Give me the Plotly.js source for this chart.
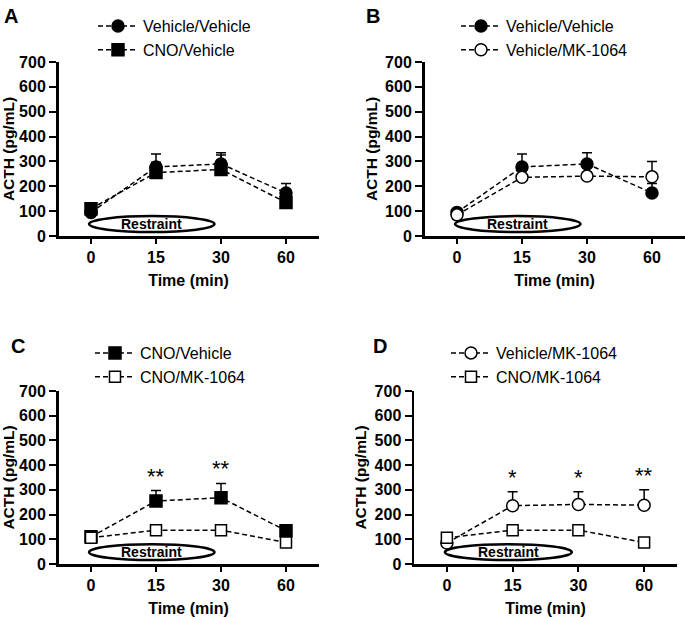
<!DOCTYPE html>
<html>
<head>
<meta charset="utf-8">
<script src="https://cdn.plot.ly/plotly-3.0.1.min.js"></script>
<style>
  html, body { margin: 0; padding: 0; background: #fff; }
  #chart { width: 685px; height: 617px; }
</style>
</head>
<body>
<div id="chart"></div>
<script>
// time points (min)
var times = ['0', '15', '30', '60'];

// ACTH means (pg/mL) and SEM (upper bar only)
var vehVeh = [95, 278, 290, 173];
var vehVehErr = [10, 52, 45, 38];
var cnoVeh = [110, 255, 268, 135];
var cnoVehErr = [8, 42, 58, 10];
var vehMK = [85, 236, 241, 238];
var vehMKErr = [8, 56, 51, 62];
var cnoMK = [106, 137, 137, 87];
var cnoMKErr = [6, 8, 8, 6];

// significance marks
var starsC = ['', '**', '**', ''];
var starsD = ['', '*', '*', '**'];

var bold = { family: 'Liberation Sans, Arial, sans-serif', weight: 'bold', color: '#000' };
var plain = { family: 'Liberation Sans, Arial, sans-serif', color: '#000' };

var styles = {
    vehVeh: { symbol: 'circle', fill: '#000', size: 12 },
    cnoVeh: { symbol: 'square', fill: '#000', size: 12 },
    vehMK: { symbol: 'circle', fill: '#fff', size: 12 },
    cnoMK: { symbol: 'square', fill: '#fff', size: 11 }
};

let makeTrace = (name, y, err, st, n) => {
    return {
        x: times,
        y: y,
        name: name,
        type: 'scatter',
        mode: 'lines+markers',
        xaxis: 'x' + (n === 1 ? '' : n),
        yaxis: 'y' + (n === 1 ? '' : n),
        legend: 'legend' + (n === 1 ? '' : n),
        line: { color: '#000', width: 1.5, dash: '5px,3px' },
        marker: { symbol: st.symbol, size: st.size, color: st.fill, line: { color: '#000', width: 1.5 } },
        error_y: {
            type: 'data', symmetric: false, array: err, arrayminus: err.map(() => 0),
            color: '#000', thickness: 1.5, width: 5
        },
        cliponaxis: false
    };
};

var data = [
    makeTrace('Vehicle/Vehicle', vehVeh, vehVehErr, styles.vehVeh, 1),
    makeTrace('CNO/Vehicle', cnoVeh, cnoVehErr, styles.cnoVeh, 1),
    makeTrace('Vehicle/Vehicle', vehVeh, vehVehErr, styles.vehVeh, 2),
    makeTrace('Vehicle/MK-1064', vehMK, vehMKErr, styles.vehMK, 2),
    makeTrace('CNO/Vehicle', cnoVeh, cnoVehErr, styles.cnoVeh, 3),
    makeTrace('CNO/MK-1064', cnoMK, cnoMKErr, styles.cnoMK, 3),
    makeTrace('Vehicle/MK-1064', vehMK, vehMKErr, styles.vehMK, 4),
    makeTrace('CNO/MK-1064', cnoMK, cnoMKErr, styles.cnoMK, 4)
];

let xAxis = (domain, anchor) => ({
    domain: domain, anchor: anchor, type: 'category', range: [-0.5, 3.5],
    showline: true, linewidth: 2.5, linecolor: '#000', showgrid: false, zeroline: false,
    ticks: 'outside', ticklen: 5, tickwidth: 2, tickcolor: '#000',
    tickfont: Object.assign({ size: 16 }, bold),
    title: { text: 'Time (min)', font: Object.assign({ size: 16 }, bold), standoff: 10 },
    automargin: false
});

let yAxis = (domain, anchor) => ({
    domain: domain, anchor: anchor, range: [0, 700], dtick: 100,
    showline: true, linewidth: 2.5, linecolor: '#000', showgrid: false, zeroline: false,
    ticks: 'outside', ticklen: 7, tickwidth: 2, tickcolor: '#000',
    tickfont: Object.assign({ size: 16 }, bold),
    title: { text: 'ACTH (pg/mL)', font: Object.assign({ size: 15.5 }, bold), standoff: 4 },
    automargin: false
});

let legendAt = (x, y) => ({
    x: x, y: y, xanchor: 'left', yanchor: 'top', xref: 'paper', yref: 'paper',
    bgcolor: 'rgba(0,0,0,0)', font: Object.assign({ size: 16 }, plain),
    itemwidth: 40, tracegroupgap: 0
});

var topDom = [1 - 236 / 617, 1 - 62 / 617];
var botDom = [1 - 564 / 617, 1 - 391 / 617];
var leftDom = [58.5 / 685, 318.5 / 685];

var shapes = [], annotations = [];
// restraint ellipse + label in every panel
['', '2', '3', '4'].forEach(s => {
    shapes.push({ type: 'circle', xref: 'x' + s, yref: 'y' + s, x0: -0.03, x1: 1.9, y0: 16, y1: 80,
        line: { color: '#000', width: 2.5 }, fillcolor: 'rgba(0,0,0,0)' });
    annotations.push({ xref: 'x' + s, yref: 'y' + s, x: 0.93, y: 48, text: 'Restraint', showarrow: false,
        font: Object.assign({ size: 14 }, bold) });
});
// stars above error bars
starsC.forEach((t, i) => {
    if (t) annotations.push({ xref: 'x3', yref: 'y3', x: i, y: cnoVeh[i] + cnoVehErr[i], yanchor: 'bottom',
        text: t, showarrow: false, font: Object.assign({ size: 22 }, plain) });
});
starsD.forEach((t, i) => {
    if (t) annotations.push({ xref: 'x4', yref: 'y4', x: i, y: vehMK[i] + vehMKErr[i], yanchor: 'bottom',
        text: t, showarrow: false, font: Object.assign({ size: 22 }, plain) });
});
// panel letters
[['A', 2, 3], ['B', 364, 3], ['C', 9, 333], ['D', 371, 333]].forEach(p => {
    annotations.push({ xref: 'paper', yref: 'paper', x: p[1] / 685, y: 1 - p[2] / 617,
        xanchor: 'left', yanchor: 'top', text: p[0], showarrow: false,
        font: Object.assign({ size: 20 }, bold) });
});

var layout = {
    width: 685, height: 617,
    margin: { l: 0, r: 0, t: 0, b: 0 },
    paper_bgcolor: '#fff', plot_bgcolor: '#fff',
    showlegend: true,
    xaxis: xAxis(leftDom, 'y'),
    yaxis: yAxis(topDom, 'x'),
    xaxis2: xAxis([424.5 / 685, 684.5 / 685], 'y2'),
    yaxis2: yAxis(topDom, 'x2'),
    xaxis3: xAxis(leftDom, 'y3'),
    yaxis3: yAxis(botDom, 'x3'),
    xaxis4: xAxis([414 / 685, 677 / 685], 'y4'),
    yaxis4: yAxis(botDom, 'x4'),
    legend: legendAt(93 / 685, 1 - 9 / 617),
    legend2: legendAt(456 / 685, 1 - 9 / 617),
    legend3: legendAt(90 / 685, 1 - 336 / 617),
    legend4: legendAt(446 / 685, 1 - 336 / 617),
    shapes: shapes,
    annotations: annotations
};

Plotly.newPlot('chart', data, layout, { displayModeBar: false, staticPlot: true });
</script>
</body>
</html>
